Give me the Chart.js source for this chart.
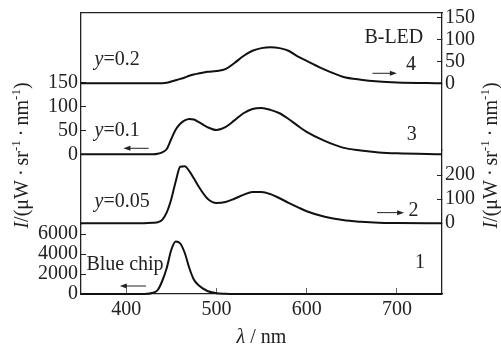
<!DOCTYPE html>
<html>
<head>
<meta charset="utf-8">
<script src="https://cdn.jsdelivr.net/npm/chart.js@4.4.1/dist/chart.umd.min.js"></script>
<style>
  html, body { margin: 0; padding: 0; background: #fff; }
  #wrap { width: 501px; height: 346px; }
</style>
</head>
<body>
<div id="wrap"><canvas id="chart" width="501" height="346"></canvas></div>
<script>
// wavelength (nm) shared by all four spectra
const wavelength = [350, 400, 420, 430, 435, 440, 445, 450, 455, 460, 465, 470, 475, 480, 490, 500,
  510, 520, 530, 540, 550, 560, 570, 580, 590, 600, 620, 640, 660, 680, 700, 750];

// 1: blue chip (left, lower scale)
const blueChip = [0, 0, 0, 120, 400, 1300, 2600, 4400, 5250, 5050, 4100, 2600, 1450, 900, 300, 80,
  20, 0, 0, 0, 0, 0, 0, 0, 0, 0, 0, 0, 0, 0, 0, 0];
// 2: y=0.05 (right, lower scale)
const y005 = [0, 0, 0, 2, 4, 14, 45, 100, 175, 235, 237, 217, 187, 155, 103, 84,
  88, 102, 118, 130, 130, 121, 104, 85, 67, 50, 27, 13, 6, 2, 1, 0];
// 3: y=0.1 (left, upper scale)
const y01 = [0, 0, 0, 0, 1, 4, 11, 32, 52, 64, 71, 74, 73, 68, 57, 51,
  57, 71, 86, 95, 97, 93, 86, 74, 60, 47, 28, 14, 8, 4, 2, 0];
// 4: y=0.2 (right, upper scale)
const y02 = [0, 0, 0, 0, 0, 0, 1, 4, 7, 10, 13, 17, 20, 22, 26, 28,
  32, 46, 62, 74, 80, 82, 80, 74, 61, 51, 31, 15, 8, 4, 2, 0];

const xTicks = [400, 500, 600, 700];
const leftLowTicks = [0, 2000, 4000, 6000];
const leftHighTicks = [0, 50, 100, 150];
const rightLowTicks = [0, 100, 200];
const rightHighTicks = [0, 50, 100, 150];

const FONT = 'Liberation Serif, Times New Roman, serif';
const INK = '#222';

Chart.defaults.font.family = FONT;
Chart.defaults.font.size = 20;
Chart.defaults.color = INK;

function pts(series) {
  return wavelength.map((x, i) => ({ x: x, y: series[i] }));
}
function fixTicks(list) {
  return scale => { scale.ticks = list.map(v => ({ value: v })); };
}
// fixed box size, and no extra room for the end labels
function fitTo(w, h) {
  return s => {
    if (w !== null) s.width = w;
    if (h !== null) s.height = h;
    s.paddingTop = s.paddingBottom = s.paddingLeft = s.paddingRight = 0;
  };
}

function yAxis(pos, ticks, min, max, weight) {
  return {
    type: 'linear',
    position: pos,
    stack: pos,
    stackWeight: weight,
    min: min,
    max: max,
    afterBuildTicks: fixTicks(ticks),
    afterFit: fitTo(pos === 'left' ? 81 : 59, null),
    border: { display: true, color: INK, width: 1.3 },
    grid: { drawOnChartArea: false, drawTicks: true, tickLength: -5, color: INK, lineWidth: 1 },
    ticks: { padding: 8, autoSkip: false, font: { size: 20 }, callback: v => String(v) }
  };
}

function line(label, series, axis) {
  return {
    label: label,
    data: pts(series),
    yAxisID: axis,
    borderColor: '#111',
    borderWidth: 2,
    pointRadius: 0,
    fill: false,
    cubicInterpolationMode: 'monotone',
    clip: false
  };
}

// text with italic / superscript pieces
function drawParts(ctx, parts, x, y, align, angle) {
  ctx.save();
  ctx.translate(x, y);
  ctx.rotate(angle || 0);
  ctx.textBaseline = 'alphabetic';
  ctx.textAlign = 'left';
  ctx.fillStyle = INK;
  const fontOf = p => (p.it ? 'italic ' : '') + (p.sup ? 13 : 20) + 'px ' + FONT;
  let w = 0;
  parts.forEach(p => { ctx.font = fontOf(p); w += ctx.measureText(p.t).width; });
  let cx = align === 'center' ? -w / 2 : 0;
  parts.forEach(p => {
    ctx.font = fontOf(p);
    ctx.fillText(p.t, cx, p.sup ? -8 : 0);
    cx += ctx.measureText(p.t).width;
  });
  ctx.restore();
}

function arrow(ctx, x1, x2, y) {
  const dir = Math.sign(x2 - x1);
  ctx.save();
  ctx.strokeStyle = INK;
  ctx.fillStyle = INK;
  ctx.lineWidth = 1;
  ctx.beginPath();
  ctx.moveTo(x1, y);
  ctx.lineTo(x2 - dir * 5, y);
  ctx.stroke();
  ctx.beginPath();
  ctx.moveTo(x2, y);
  ctx.lineTo(x2 - dir * 7, y - 2.5);
  ctx.lineTo(x2 - dir * 7, y + 2.5);
  ctx.closePath();
  ctx.fill();
  ctx.restore();
}

const notes = [
  { axis: 'yR2', x: 365, y: 42, parts: [{ t: 'y', it: true }, { t: '=0.2' }] },
  { axis: 'yL2', x: 365, y: 38, parts: [{ t: 'y', it: true }, { t: '=0.1' }] },
  { axis: 'yR1', x: 365, y: 68, parts: [{ t: 'y', it: true }, { t: '=0.05' }] },
  { axis: 'yL1', x: 356, y: 2400, parts: [{ t: 'Blue chip' }] },
  { axis: 'yR2', x: 664, y: 92, parts: [{ t: 'B-LED' }] },
  { axis: 'yR2', x: 710, y: 30, parts: [{ t: '4' }] },
  { axis: 'yL2', x: 711, y: 30, parts: [{ t: '3' }] },
  { axis: 'yR1', x: 713, y: 30, parts: [{ t: '2' }] },
  { axis: 'yL1', x: 720, y: 2600, parts: [{ t: '1' }] }
];
const arrows = [
  { axis: 'yR2', from: 673, to: 700, y: 22.7 },
  { axis: 'yL2', from: 425, to: 397, y: 12.6 },
  { axis: 'yR1', from: 678, to: 708, y: 44 },
  { axis: 'yL1', from: 422, to: 393, y: 800 }
];

const titleParts = [
  { t: 'I', it: true }, { t: '/(μW\u2009·\u2009sr' }, { t: '-1', sup: true },
  { t: '\u2009·\u2009nm' }, { t: '-1', sup: true }, { t: ')' }
];

const annotate = {
  id: 'annotate',
  afterDatasetsDraw(chart) {
    const ctx = chart.ctx;
    const sx = chart.scales.x;
    notes.forEach(n => {
      const sy = chart.scales[n.axis];
      drawParts(ctx, n.parts, sx.getPixelForValue(n.x), sy.getPixelForValue(n.y), 'left', 0);
    });
    arrows.forEach(a => {
      const sy = chart.scales[a.axis];
      arrow(ctx, sx.getPixelForValue(a.from), sx.getPixelForValue(a.to), sy.getPixelForValue(a.y));
    });
    const area = chart.chartArea;
    const midY = (area.top + area.bottom) / 2 + 2;
    drawParts(ctx, titleParts, 28, midY, 'center', -Math.PI / 2);
    drawParts(ctx, titleParts, 497, midY, 'center', -Math.PI / 2);
    drawParts(ctx, [{ t: 'λ', it: true }, { t: ' / nm' }], (area.left + area.right) / 2, 343, 'center', 0);
  }
};

new Chart(document.getElementById('chart'), {
  type: 'line',
  data: {
    datasets: [
      line('Blue chip', blueChip, 'yL1'),
      line('y=0.05', y005, 'yR1'),
      line('y=0.1', y01, 'yL2'),
      line('y=0.2', y02, 'yR2')
    ]
  },
  options: {
    responsive: false,
    animation: false,
    layout: { padding: { top: 13, left: 0, right: 0, bottom: 0 } },
    plugins: { legend: { display: false }, tooltip: { enabled: false } },
    scales: {
      x: {
        type: 'linear',
        min: 350,
        max: 750,
        afterBuildTicks: fixTicks(xTicks),
        afterFit: fitTo(null, 52),
        border: { display: true, color: INK, width: 1.3 },
        grid: { drawOnChartArea: false, drawTicks: true, tickLength: -6, color: '#666', lineWidth: 1 },
        ticks: { padding: 10, autoSkip: false, maxRotation: 0 }
      },
      // top frame line only
      xTop: {
        type: 'linear',
        position: 'top',
        min: 350,
        max: 750,
        afterFit: fitTo(null, 0),
        border: { display: true, color: INK, width: 1.3 },
        grid: { display: false, drawTicks: false },
        ticks: { display: false }
      },
      // left stack is placed bottom-up, so the lower axis comes first
      yL1: yAxis('left', leftLowTicks, 0, 7000, 70),
      yL2: yAxis('left', leftHighTicks, -146, 296, 211),
      yR2: yAxis('right', rightHighTicks, -152, 160, 137),
      yR1: yAxis('right', rightLowTicks, -295, 305, 144)
    }
  },
  plugins: [annotate]
});
</script>
</body>
</html>
